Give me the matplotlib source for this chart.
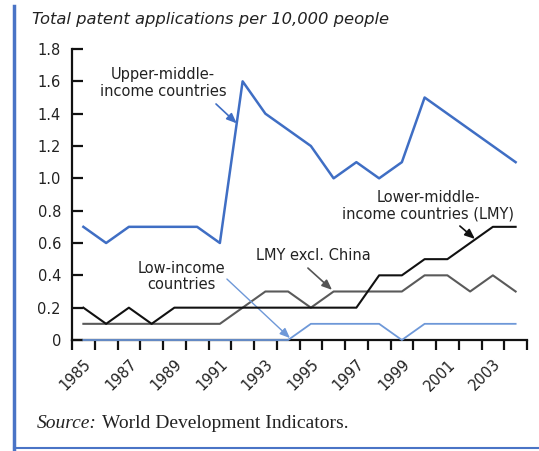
import matplotlib
matplotlib.use("Agg")
import matplotlib.pyplot as plt
from matplotlib.lines import Line2D

years = list(range(1985, 2005))
upper_middle = [0.7, 0.6, 0.7, 0.7, 0.7, 0.7, 0.6, 1.6, 1.4, 1.3, 1.2, 1.0, 1.1, 1.0, 1.1, 1.5, 1.4, 1.3, 1.2, 1.1]
lmy = [0.2, 0.1, 0.2, 0.1, 0.2, 0.2, 0.2, 0.2, 0.2, 0.2, 0.2, 0.2, 0.2, 0.4, 0.4, 0.5, 0.5, 0.6, 0.7, 0.7]
lmy_excl_china = [0.1, 0.1, 0.1, 0.1, 0.1, 0.1, 0.1, 0.2, 0.3, 0.3, 0.2, 0.3, 0.3, 0.3, 0.3, 0.4, 0.4, 0.3, 0.4, 0.3]
low_income = [0, 0, 0, 0, 0, 0, 0, 0, 0, 0, 0.1, 0.1, 0.1, 0.1, 0, 0.1, 0.1, 0.1, 0.1, 0.1]
yticks = [0, 0.2, 0.4, 0.6, 0.8, 1.0, 1.2, 1.4, 1.6, 1.8]
ytick_labels = ["0", "0.2", "0.4", "0.6", "0.8", "1.0", "1.2", "1.4", "1.6", "1.8"]
xlabel_years = [1985, 1987, 1989, 1991, 1993, 1995, 1997, 1999, 2001, 2003]

plt.rcParams["font.family"] = ["DejaVu Sans"]
W, H = 539, 451
fig = plt.figure(figsize=(W / 100, H / 100), dpi=100)
fig.patch.set_facecolor("white")
ax = fig.add_axes([72 / W, 1 - 340 / H, (527 - 72) / W, (340 - 49) / H])

x = list(range(len(years)))
blue = "#3f6ec4"
light_blue = "#6e98d8"
txt = "#222222"
ax.plot(x, lmy_excl_china, color="#5a5a5a", lw=1.5, clip_on=False, zorder=3)
ax.plot(x, lmy, color="#111111", lw=1.5, clip_on=False, zorder=4)
ax.plot(x, upper_middle, color=blue, lw=1.8, clip_on=False, zorder=5)
ax.plot(x, low_income, color=light_blue, lw=1.3, clip_on=False, zorder=6)

ax.set_xlim(-0.5, len(years) - 0.5)
ax.set_ylim(0, 1.8)
for s in ["top", "right"]:
    ax.spines[s].set_visible(False)
for s in ["left", "bottom"]:
    ax.spines[s].set_linewidth(1.6)
    ax.spines[s].set_color("#111111")

fs = 10.5
ax.set_yticks(yticks)
ax.set_yticklabels(ytick_labels, fontsize=fs, color=txt)
ax.tick_params(axis="y", direction="in", length=8, width=1.6, pad=8, colors="#111111")
for lbl in ax.get_yticklabels():
    lbl.set_color(txt)

ax.set_xticks([i - 0.5 for i in range(len(years) + 1)])
ax.set_xticklabels([])
ax.tick_params(axis="x", direction="out", length=7, width=1.6, colors="#111111")
ax.set_xticks([years.index(yr) for yr in xlabel_years], minor=True)
ax.set_xticklabels([str(yr) for yr in xlabel_years], minor=True, rotation=45,
                   ha="right", va="top", rotation_mode="anchor",
                   fontsize=fs, color=txt)
ax.tick_params(axis="x", which="minor", length=0, pad=12)

arrow = dict(head_length=0.6, head_width=0.25)
astyle = "-|>,head_length=0.6,head_width=0.25"

# Upper-middle
ax.text(3.5, 1.49, "Upper-middle-\nincome countries", ha="center", va="bottom",
        fontsize=fs, color=txt, linespacing=1.15)
ax.annotate("", xy=(6.74, 1.34), xytext=(5.83, 1.46),
            arrowprops=dict(arrowstyle=astyle, color=blue, lw=1.2, shrinkA=0, shrinkB=0))
# Lower-middle
ax.text(15.15, 0.73, "Lower-middle-\nincome countries (LMY)", ha="center", va="bottom",
        fontsize=fs, color=txt, linespacing=1.15)
ax.annotate("", xy=(17.21, 0.625), xytext=(16.55, 0.705),
            arrowprops=dict(arrowstyle=astyle, color="#111111", lw=1.2, shrinkA=0, shrinkB=0))
# LMY excl China
ax.text(10.09, 0.475, "LMY excl. China", ha="center", va="bottom", fontsize=fs, color=txt)
ax.annotate("", xy=(10.93, 0.31), xytext=(9.87, 0.445),
            arrowprops=dict(arrowstyle=astyle, color="#555555", lw=1.2, shrinkA=0, shrinkB=0))
# Low income
ax.text(4.29, 0.295, "Low-income\ncountries", ha="center", va="bottom",
        fontsize=fs, color=txt, linespacing=1.15)
ax.annotate("", xy=(9.08, 0.012), xytext=(6.31, 0.377),
            arrowprops=dict(arrowstyle=astyle, color=light_blue, lw=1.0, shrinkA=0, shrinkB=0))

fig.text(32 / W, 1 - 24 / H, "Total patent applications per 10,000 people", fontsize=11.8,
         style="italic", color=txt, va="baseline", ha="left")

fig.text(37 / W, 1 - 428 / H, "Source:", fontsize=14, style="italic",
         family="Liberation Serif", color=txt, va="baseline", ha="left")
fig.text(102 / W, 1 - 428 / H, "World Development Indicators.", fontsize=14,
         family="Liberation Serif", color=txt, va="baseline", ha="left")

frame_color = "#4a74c6"
fig.add_artist(Line2D([14 / W, 14 / W], [0, 1 - 6 / H], color=frame_color, lw=2.5,
                      transform=fig.transFigure))
fig.add_artist(Line2D([14 / W, 1.0], [1 - 448 / H, 1 - 448 / H], color=frame_color, lw=1.5,
                      transform=fig.transFigure))

fig.savefig("out.png", dpi=100)
